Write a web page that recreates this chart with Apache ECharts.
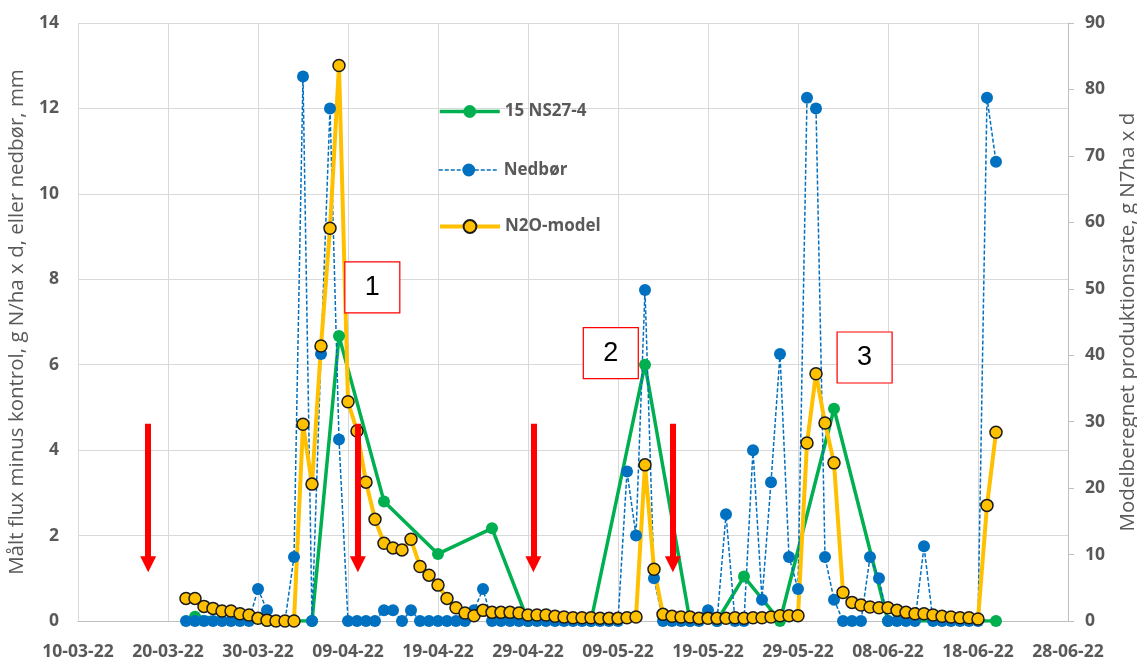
<!DOCTYPE html>
<html><head><meta charset="utf-8">
<script src="https://cdn.jsdelivr.net/npm/echarts@6/dist/echarts.min.js"></script>
<style>html,body{margin:0;padding:0;background:#fff}#c{width:1137px;height:657px}</style>
</head><body><div id="c"></div>
<script>
// ---- data ----
const axisStart = '2022-03-10';
const xTickLabels = ['10-03-22','20-03-22','30-03-22','09-04-22','19-04-22','29-04-22','09-05-22','19-05-22','29-05-22','08-06-22','18-06-22','28-06-22'];

const fluxDates = ['2022-03-23','2022-03-31','2022-04-05','2022-04-08','2022-04-13','2022-04-19','2022-04-25','2022-04-29','2022-05-06','2022-05-12','2022-05-17','2022-05-20','2022-05-23','2022-05-27','2022-06-02','2022-06-08','2022-06-20'];
const fluxValues = [0.1,0,0,6.67,2.8,1.57,2.17,0,0,6.0,0,0,1.04,0,4.97,0,0];

const nedborStart = '2022-03-22';
const nedbor = [0,0,0,0,0,0,0,0,
  0.75,0.25,0,0,1.5,12.75,0,6.25,12.0,4.25,
  0,0,0,0,
  0.25,0.25,0,0.25,
  0,0,0,0,0,0,
  0.25,0.75,
  0,0,0,0,0,0,0,0,0,0,0,0,0,0,0,
  3.5,2.0,7.75,1.0,
  0,0,0,0,0,
  0.25,0,2.5,0,0,4.0,0.5,3.25,6.25,1.5,0.75,12.25,12.0,1.5,0.5,0,0,0,1.5,1.0,
  0,0,0,0,
  1.75,
  0,0,0,0,0,0,
  12.25,10.75];

const modelStart = '2022-03-22';
const n2oModel = [3.4,3.4,2.2,1.9,1.5,1.5,1.1,0.9,0.4,0.1,
  0,0,0,29.6,20.6,41.4,59.1,83.6,33.0,28.6,
  20.9,15.3,11.7,11.0,10.7,12.3,8.2,6.9,5.4,3.4,
  2.0,1.2,0.8,1.6,1.3,1.3,1.3,1.2,0.9,0.9,
  0.9,0.7,0.6,0.5,0.5,0.5,0.4,0.4,0.4,0.5,
  0.6,23.5,7.8,1.0,0.7,0.6,0.6,0.4,0.4,0.4,
  0.4,0.5,0.4,0.5,0.5,0.6,0.8,0.8,0.8,26.8,
  37.2,29.8,23.8,4.3,2.8,2.4,2.1,2.0,2.0,1.6,
  1.3,1.1,1.1,0.9,0.7,0.6,0.5,0.5,0.3,17.4,28.4];

// annotation anchors (days after axis start)
const arrowDays = [7.8, 31.1, 50.6, 66.1];
const boxLabels = ['1','2','3'];

// ---- helpers ----
const DAY = 86400000;
const t0 = Date.parse(axisStart);
const dayOf = s => Math.round((Date.parse(s) - t0) / DAY);
const daily = (start, arr) => arr.map((v, i) => [dayOf(start) + i, v]);

const GRAY = '#595959';
const FONT = 'Open Sans';
const lbl = {color: GRAY, fontFamily: FONT, fontWeight: 'bold', fontSize: 17.5};

const legendBase = {itemWidth: 60, itemHeight: 16, padding: 0, selectedMode: false,
  textStyle: Object.assign({}, lbl, {fontSize: 17})};

const chart = echarts.init(document.getElementById('c'));
chart.setOption({
  animation: false,
  backgroundColor: '#fff',
  grid: {left: 78, right: 69, top: 23, bottom: 36, containLabel: false, outerBoundsMode: 'none'},
  legend: [
    Object.assign({data: ['15 NS27-4'], left: 438, top: 103, lineStyle: {width: 3.5}}, legendBase),
    Object.assign({data: ['Nedbør'], left: 438, top: 161.5, lineStyle: {width: 1.5}}, legendBase),
    Object.assign({data: ['N2O-model'], left: 438, top: 218, lineStyle: {width: 4}}, legendBase)
  ],
  xAxis: {
    type: 'value', min: 0, max: 110, interval: 10,
    axisLine: {show: true, lineStyle: {color: '#bfbfbf', width: 1}},
    axisTick: {show: false},
    splitLine: {show: true, lineStyle: {color: '#d9d9d9', width: 1}},
    axisLabel: Object.assign({}, lbl, {margin: 22, formatter: v => xTickLabels[Math.round(v / 10)] || ''})
  },
  yAxis: [
    {
      type: 'value', min: 0, max: 14, interval: 2,
      axisLine: {show: false}, axisTick: {show: false},
      splitLine: {show: true, lineStyle: {color: '#d9d9d9', width: 1}},
      axisLabel: Object.assign({}, lbl, {margin: 19}),
      name: 'Målt flux minus kontrol, g N/ha x d, eller nedbør, mm',
      nameLocation: 'middle', nameRotate: 90, nameGap: 48,
      nameTextStyle: {color: GRAY, fontFamily: FONT, fontSize: 20.5, fontWeight: 'normal'}
    },
    {
      type: 'value', min: 0, max: 90, interval: 10, position: 'right',
      axisLine: {show: true, lineStyle: {color: '#bfbfbf', width: 1}},
      axisTick: {show: true, length: 6, lineStyle: {color: '#bfbfbf'}},
      splitLine: {show: false},
      axisLabel: Object.assign({}, lbl, {margin: 17}),
      name: 'Modelberegnet produktionsrate, g N7ha x d',
      nameLocation: 'middle', nameRotate: 90, nameGap: 50,
      nameTextStyle: {color: GRAY, fontFamily: FONT, fontSize: 20.5, fontWeight: 'normal'}
    }
  ],
  series: [
    {
      name: '15 NS27-4', type: 'line', yAxisIndex: 0,
      data: fluxDates.map((d, i) => [dayOf(d), fluxValues[i]]),
      symbol: 'circle', symbolSize: 12, showAllSymbol: true,
      lineStyle: {color: '#00B050', width: 3.5},
      itemStyle: {color: '#00B050'},
      emphasis: {disabled: true}
    },
    {
      name: 'Nedbør', type: 'line', yAxisIndex: 0,
      data: daily(nedborStart, nedbor),
      symbol: 'circle', symbolSize: 12, showAllSymbol: true,
      lineStyle: {color: '#0070C0', width: 1.5, type: [4, 2]},
      itemStyle: {color: '#0070C0'},
      emphasis: {disabled: true}
    },
    {
      name: 'annot', type: 'line', yAxisIndex: 0, data: [],
      markLine: {
        silent: true, animation: false,
        symbol: ['none', 'triangle'], symbolSize: 16,
        label: {show: false},
        lineStyle: {color: '#FF0000', width: 6, type: 'solid'},
        emphasis: {disabled: true},
        data: arrowDays.map(d => [{coord: [d, 4.62]}, {coord: [d, 1.33]}])
      },
      markPoint: {
        silent: true, animation: false,
        symbol: 'rect', symbolSize: [55, 51],
        itemStyle: {color: '#ffffff', borderColor: '#FF0000', borderWidth: 1.2},
        label: {show: true, position: 'inside', formatter: '{b}', color: '#000', fontSize: 27, fontFamily: 'Liberation Sans'},
        data: [
          {name: boxLabels[0], coord: [32.7, 7.81]},
          {name: boxLabels[1], coord: [59.2, 6.27]},
          {name: boxLabels[2], coord: [87.4, 6.17]}
        ]
      }
    },
    {
      name: 'N2O-model', type: 'line', yAxisIndex: 1,
      data: daily(modelStart, n2oModel),
      symbol: 'circle', symbolSize: 12, showAllSymbol: true,
      lineStyle: {color: '#FFC000', width: 4},
      itemStyle: {color: '#FFC000', borderColor: '#1a1a1a', borderWidth: 1.5},
      emphasis: {disabled: true}
    }
  ]
});
</script></body></html>
